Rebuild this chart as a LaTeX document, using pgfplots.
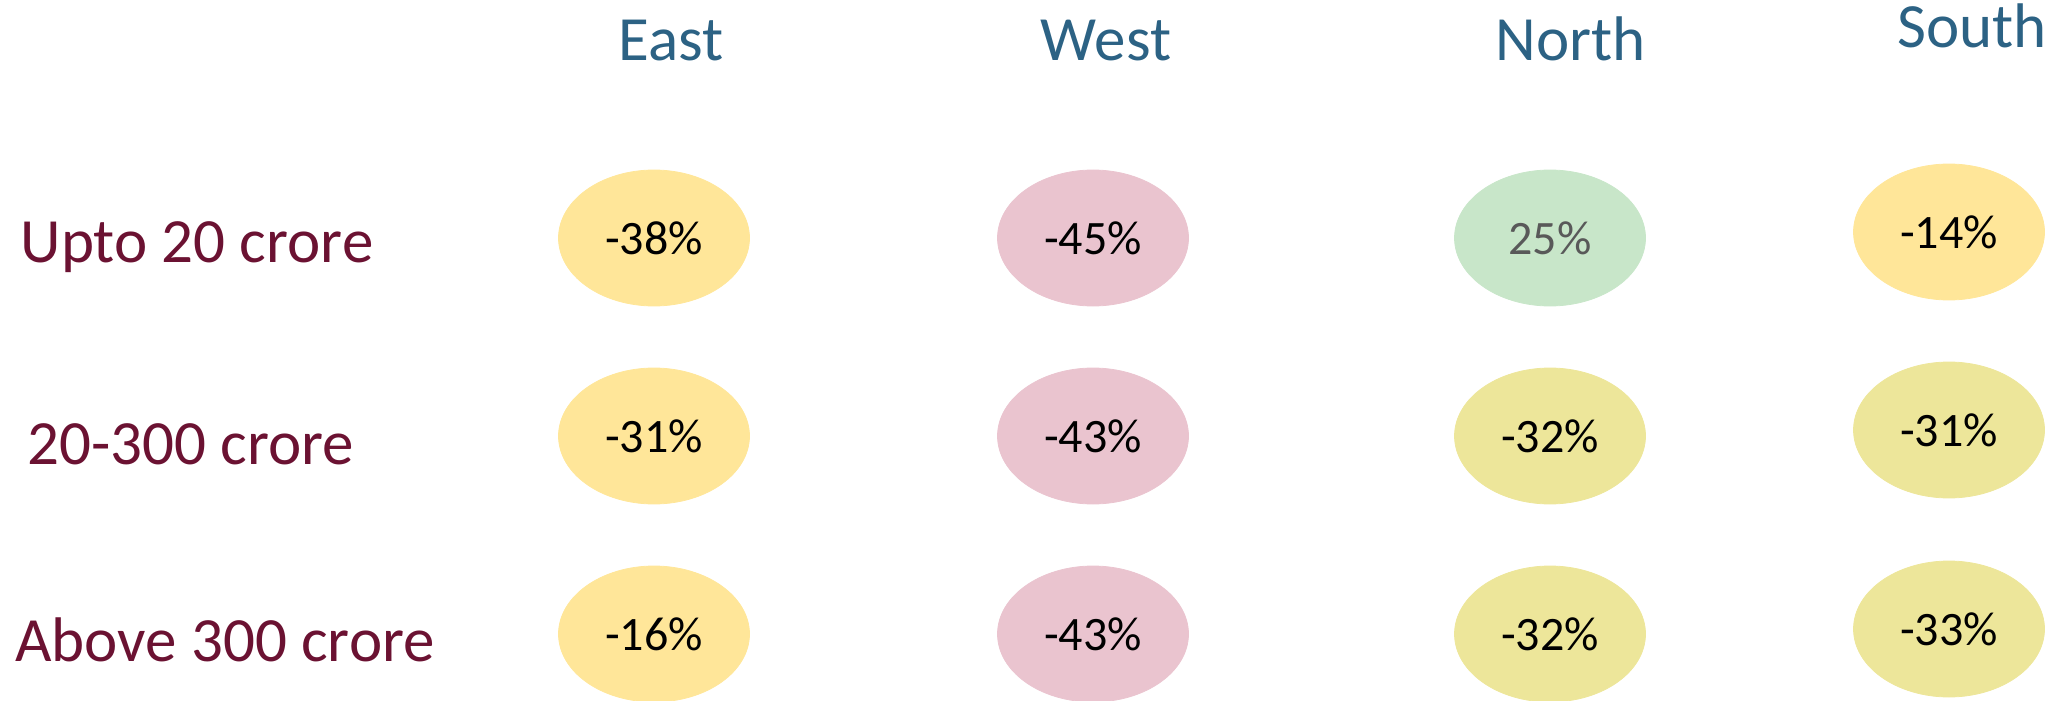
\documentclass[border=0pt]{standalone}
\usepackage{pgfplots}
\pgfplotsset{compat=1.18}
\usepackage{fontspec}
\setmainfont{Carlito}
\definecolor{hdr}{HTML}{2C6284}
\definecolor{rowc}{HTML}{6B1232}
\definecolor{cYel}{HTML}{FFE699}
\definecolor{cPink}{HTML}{EAC4CF}
\definecolor{cGreen}{HTML}{C8E6C9}
\definecolor{cOlive}{HTML}{EDE69A}
\definecolor{gtxt}{HTML}{595959}
\begin{document}
\begin{tikzpicture}
\begin{axis}[
  name=ax,
  scale only axis, width=1025.5pt, height=350.5pt,
  xmin=0, xmax=2051, ymin=0, ymax=701, y dir=reverse,
  hide axis, clip=false,
  only marks, mark=*, mark size=34pt,
  point meta=explicit symbolic,
  nodes near coords={\pgfplotspointmeta\%},
  nodes near coords align={center},
  every node near coord/.append style={font=\fontsize{24}{28}\selectfont, text=black, inner sep=0pt},
]
% East (yellow) + South row 1
\addplot[color=cYel, mark options={xscale=1.404}] coordinates {
  (654,238) [-38] (654,436) [-31] (654,634) [-16] (1949,232) [-14]};
% West (pink)
\addplot[color=cPink, mark options={xscale=1.404}] coordinates {
  (1093,238) [-45] (1093,436) [-43] (1093,634) [-43]};
% North row 1 (green)
\addplot[color=cGreen, mark options={xscale=1.404},
  every node near coord/.append style={text=gtxt}] coordinates {
  (1550,238) [25]};
% North rows 2-3, South rows 2-3 (olive)
\addplot[color=cOlive, mark options={xscale=1.404}] coordinates {
  (1550,436) [-32] (1550,634) [-32] (1949,430) [-31] (1949,629) [-33]};
% column headers
\node[anchor=base, text=hdr, font=\fontsize{31.5}{37}\selectfont] at (axis cs:671,61) {East};
\node[anchor=base, text=hdr, font=\fontsize{31.5}{37}\selectfont] at (axis cs:1106,61) {West};
\node[anchor=base, text=hdr, font=\fontsize{31.5}{37}\selectfont] at (axis cs:1571,61) {North};
\node[anchor=base, text=hdr, font=\fontsize{31.5}{37}\selectfont] at (axis cs:1972,48) {South};
% row labels
\node[anchor=base, text=rowc, font=\fontsize{31.5}{37}\selectfont] at (axis cs:197,262) {Upto 20 crore};
\node[anchor=base, text=rowc, font=\fontsize{31.5}{37}\selectfont] at (axis cs:191,464) {20-300 crore};
\node[anchor=base, text=rowc, font=\fontsize{31.5}{37}\selectfont] at (axis cs:225,661) {Above 300 crore};
\end{axis}
\pgfresetboundingbox
\path (ax.south west) rectangle (ax.north east);
\end{tikzpicture}
\end{document}
